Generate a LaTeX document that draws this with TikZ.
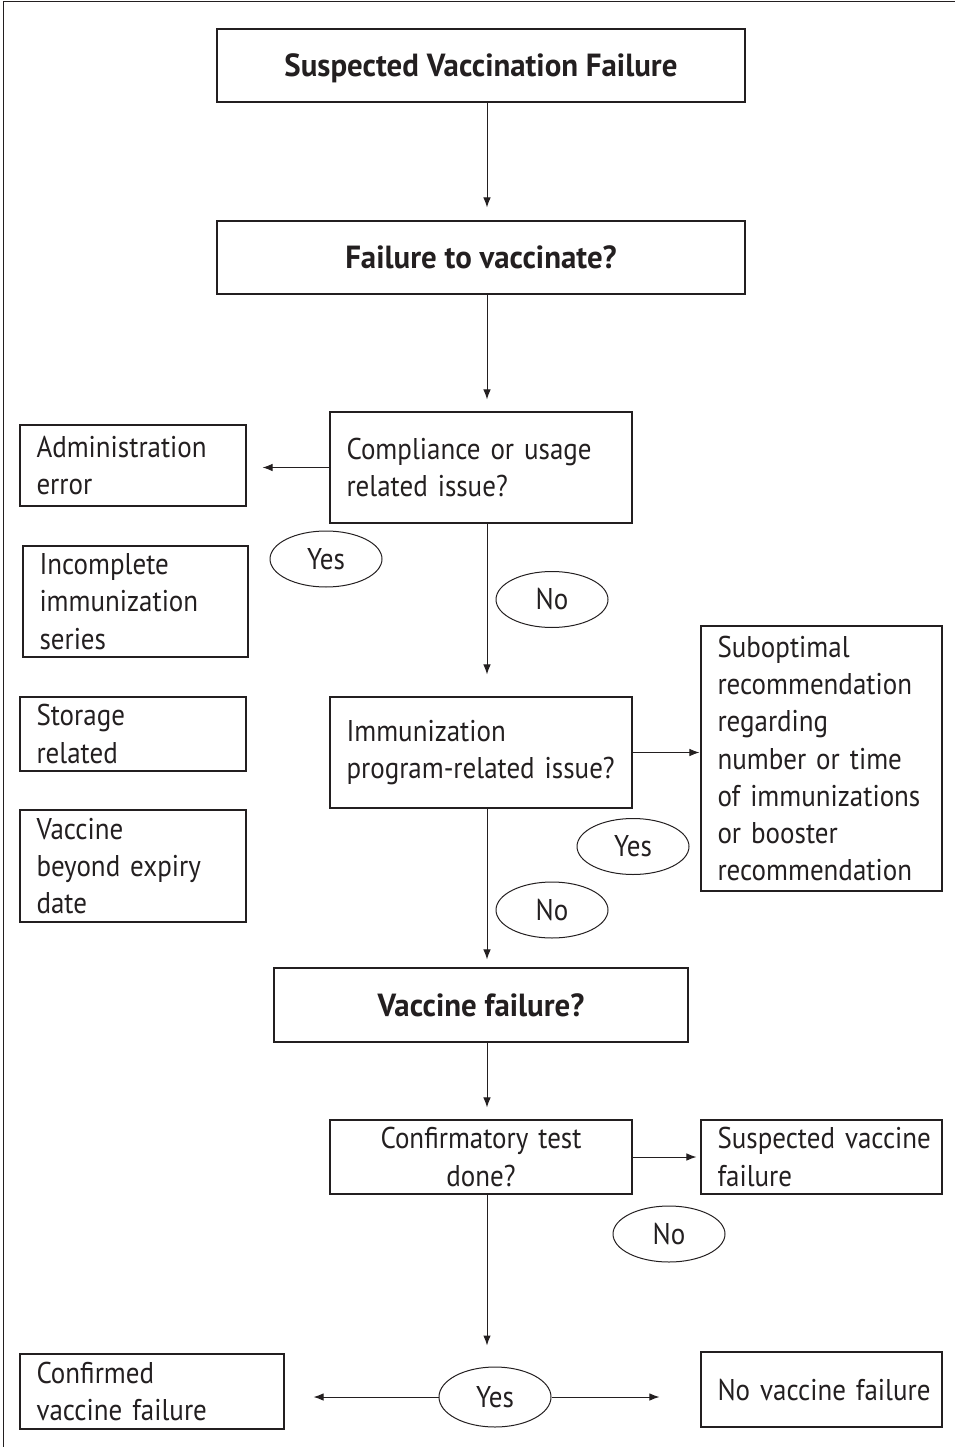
\documentclass[tikz,border=0pt]{standalone}
\usepackage{fontspec}
\setmainfont{PT Sans}[FakeStretch=0.9]
\newfontfamily\titlefont{PT Sans}[FakeStretch=0.965]
\usetikzlibrary{shapes.geometric,arrows.meta}
\definecolor{ink}{HTML}{231F20}
\hyphenpenalty=10000
\exhyphenpenalty=10000
\hbadness=10000
\hfuzz=20pt
\begin{document}
\begin{tikzpicture}[x=1pt,y=-1pt,
  box/.style={draw=ink, line width=1.1pt, inner xsep=16pt, inner ysep=0pt, align=left, text=ink},
  tbox/.style={box, align=center, text height=22pt, text depth=0pt, font=\fontsize{32}{37}\selectfont\titlefont\bfseries},
  oval/.style={ellipse, draw=ink, line width=1pt, minimum width=112pt, minimum height=56pt, inner sep=0pt, text=ink},
  conn/.style={draw=ink, line width=1pt, -{Latex[length=10pt,width=7.5pt]}},
  font=\fontsize{30}{37.3}\selectfont]
\useasboundingbox (0,0) rectangle (955,1447);
\draw[ink, line width=1pt] (3,1447) -- (3,2) -- (955,2);
\coordinate (sp) at (487,0);

\node[tbox, minimum width=528pt, minimum height=73pt] (b1) at (481,65.5) {Suspected Vaccination Failure};
\node[tbox, minimum width=528pt, minimum height=73pt] (b2) at (481,257.5) {Failure to vaccinate?};
\node[box, minimum width=302pt, minimum height=111pt, text width=269pt] (b3) at (481,467.5) {Compliance or usage\\related issue?};
\node[box, minimum width=226pt, minimum height=81pt, text width=193pt] (adm) at (133,465.5) {Administration\\error};
\node[box, minimum width=225pt, minimum height=111pt, text width=192pt] (inc) at (135.5,601.5) {Incomplete\\immunization\\series};
\node[box, minimum width=226pt, minimum height=74pt, text width=193pt] (sto) at (133,734) {Storage\\related};
\node[box, minimum width=226pt, minimum height=112pt, text width=193pt] (exp) at (133,866) {Vaccine\\beyond~expiry\\date};
\node[box, minimum width=302pt, minimum height=111pt, text width=269pt] (b4) at (481,752.5) {Immunization\\program-related~issue?};
\node[box, minimum width=241pt, minimum height=265pt, text width=208pt] (sub) at (821.5,758.5) {Suboptimal\\recommendation\\regarding\\number~or~time\\of~immunizations\\or~booster\\recommendation};
\node[tbox, minimum width=414pt, minimum height=74pt] (b5) at (481,1005) {Vaccine failure?};
\node[box, align=center, minimum width=302pt, minimum height=74pt, text width=269pt] (b6) at (481,1157) {Confirmatory~test\\done?};
\node[box, minimum width=241pt, minimum height=74pt, text width=208pt] (svf) at (821.5,1157) {Suspected~vaccine\\failure};
\node[box, minimum width=264pt, minimum height=75pt, text width=231pt] (conf) at (152,1391.5) {Confirmed\\vaccine~failure};
\node[box, minimum width=241pt, minimum height=75pt, text width=208pt] (nvf) at (821.5,1389.5) {No~vaccine~failure};

\node[oval] (yes1) at (326,559) {Yes};
\node[oval] (no1) at (552,599.5) {No};
\node[oval] (yes2) at (633,846.5) {Yes};
\node[oval] (no2) at (552,910) {No};
\node[oval] (no3) at (669,1234) {No};
\node[oval, minimum height=60pt] (yes3) at (495,1397) {Yes};

\draw[conn, shorten >=13pt] (b1.south -| sp) -- (b2.north -| sp);
\draw[conn, shorten >=12pt] (b2.south -| sp) -- (b3.north -| sp);
\draw[conn, shorten >=16pt] (b3.west) -- (b3.west -| adm.east);
\draw[conn, shorten >=22pt] (b3.south -| sp) -- (b4.north -| sp);
\draw[conn, shorten >=1pt] (b4.east) -- (b4.east -| sub.west);
\draw[conn, shorten >=8pt] (b4.south -| sp) -- (b5.north -| sp);
\draw[conn, shorten >=12pt] (b5.south -| sp) -- (b6.north -| sp);
\draw[conn, shorten >=4pt] (b6.east) -- (svf.west);
\draw[conn, shorten >=21pt] (b6.south -| sp) -- (yes3.north -| sp);
\draw[conn, shorten >=29pt] (yes3.west) -- (yes3.west -| conf.east);
\draw[conn, shorten >=41pt] (yes3.east) -- (yes3.east -| nvf.west);
\end{tikzpicture}
\end{document}
